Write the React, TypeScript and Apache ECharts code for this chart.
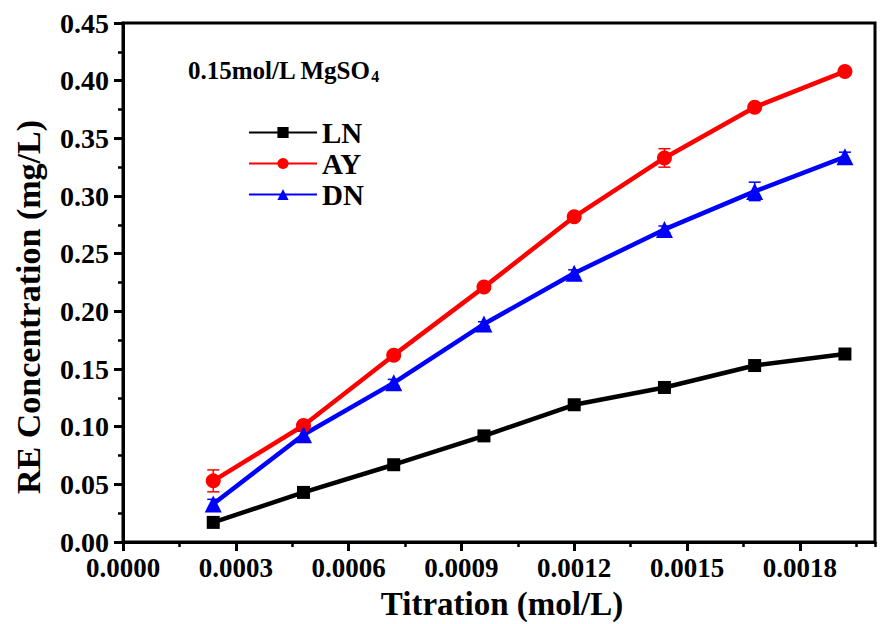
import React, { useEffect, useRef } from "react";
import * as echarts from "echarts";

const titration = [0.00024, 0.00048, 0.00072, 0.00096, 0.0012, 0.00144, 0.00168, 0.00192];
const lnValues = [0.017, 0.043, 0.067, 0.092, 0.119, 0.134, 0.153, 0.163];
const ayValues = [0.053, 0.101, 0.162, 0.221, 0.282, 0.333, 0.377, 0.408];
const dnValues = [0.033, 0.093, 0.138, 0.189, 0.233, 0.271, 0.304, 0.334];
const lnErr = [0.002, 0.002, 0.004, 0.002, 0.002, 0.002, 0.002, 0.002];
const ayErr = [0.0095, 0.002, 0.003, 0.002, 0.002, 0.008, 0.002, 0.002];
const dnErr = [0.004, 0.003, 0.003, 0.002, 0.003, 0.003, 0.008, 0.004];
const seriesNames = ["LN", "AY", "DN"];
const seriesColors = ["#000000", "#ff0000", "#0000ff"];
const seriesSymbols = ["rect", "circle", "triangle"];
const symbolSizes = [13, 15, 17];

const FONT = "'Liberation Serif', 'Times New Roman', serif";

export default function App() {
  const ref = useRef<HTMLDivElement>(null);
  useEffect(() => {
    document.body.style.margin = "0";
    if (!ref.current) return;
    const chart = echarts.init(ref.current, null, { renderer: "svg" });
    const values = [lnValues, ayValues, dnValues];
    const errs = [lnErr, ayErr, dnErr];
    const lineSeries = values.map((vals, i) => ({
      name: seriesNames[i],
      type: "line",
      xAxisIndex: 0,
      yAxisIndex: 0,
      data: titration.map((x, j) => [x, vals[j]]),
      symbol: seriesSymbols[i],
      symbolSize: symbolSizes[i],
      itemStyle: { color: seriesColors[i] },
      lineStyle: { color: seriesColors[i], width: 4.5 },
      z: 3,
    }));
    const errSeries = values.map((vals, i) => ({
      name: seriesNames[i] + "_err",
      type: "custom",
      xAxisIndex: 0,
      yAxisIndex: 0,
      data: titration.map((x, j) => [x, vals[j], errs[i][j]]),
      z: 2,
      renderItem: (params: any, api: any) => {
        const x = api.value(0);
        const y = api.value(1);
        const e = api.value(2);
        const top = api.coord([x, y + e]);
        const bot = api.coord([x, y - e]);
        const w = 6;
        const style = { stroke: seriesColors[i], lineWidth: 1.5 };
        return {
          type: "group",
          children: [
            { type: "line", shape: { x1: top[0], y1: top[1], x2: bot[0], y2: bot[1] }, style },
            { type: "line", shape: { x1: top[0] - w, y1: top[1], x2: top[0] + w, y2: top[1] }, style },
            { type: "line", shape: { x1: bot[0] - w, y1: bot[1], x2: bot[0] + w, y2: bot[1] }, style },
          ],
        };
      },
    }));

    chart.setOption({
      animation: false,
      backgroundColor: "#ffffff",
      grid: {
        left: 123,
        right: 5,
        top: 23,
        bottom: 82,
        show: true,
        borderColor: "#000",
        borderWidth: 3,
      },
      legend: {
        data: seriesNames,
        orient: "vertical",
        left: 243,
        top: 113,
        itemWidth: 68,
        itemHeight: 14,
        itemGap: 2,
        textStyle: { fontFamily: FONT, fontWeight: "bold", fontSize: 29, color: "#000" },
      },
      xAxis: [
        {
          type: "value",
          min: 0,
          max: 0.002,
          interval: 0.0003,
          position: "bottom",
          axisLine: { show: true, lineStyle: { color: "#000", width: 3 } },
          axisTick: { show: true, inside: false, length: 9, lineStyle: { color: "#000", width: 3 } },
          axisLabel: {
            show: true,
            margin: 12,
            fontFamily: FONT,
            fontWeight: "bold",
            fontSize: 27,
            color: "#000",
            showMaxLabel: false,
            formatter: (v: number) => v.toFixed(4),
          },
          splitLine: { show: false },
        },
        {
          type: "value",
          min: 0,
          max: 0.002,
          interval: 0.00015,
          position: "bottom",
          axisLine: { show: false },
          axisTick: { show: true, inside: false, length: 5, lineStyle: { color: "#000", width: 2.5 } },
          axisLabel: { show: false },
          splitLine: { show: false },
        },
      ],
      yAxis: {
        type: "value",
        min: 0,
        max: 0.45,
        interval: 0.05,
        axisLine: { show: true, lineStyle: { color: "#000", width: 3 } },
        axisTick: { show: true, inside: false, length: 9, lineStyle: { color: "#000", width: 3 } },
        minorTick: { show: true, splitNumber: 2, length: 5, lineStyle: { color: "#000", width: 2.5 } },
        axisLabel: {
          margin: 14,
          fontFamily: FONT,
          fontWeight: "bold",
          fontSize: 28,
          color: "#000",
          formatter: (v: number) => v.toFixed(2),
        },
        splitLine: { show: false },
      },
      graphic: [
        {
          type: "text",
          x: 502,
          y: 604,
          style: {
            text: "Titration (mol/L)",
            fontFamily: FONT,
            fontWeight: "bold",
            fontSize: 33,
            fill: "#000",
            align: "center",
            verticalAlign: "middle",
          },
        },
        {
          type: "text",
          x: 28,
          y: 307,
          rotation: Math.PI / 2,
          style: {
            text: "RE Concentration (mg/L)",
            fontFamily: FONT,
            fontWeight: "bold",
            fontSize: 34,
            fill: "#000",
            align: "center",
            verticalAlign: "middle",
          },
        },
        {
          type: "text",
          x: 188,
          y: 70,
          style: {
            text: "{a|0.15mol/L MgSO}{s|4}",
            verticalAlign: "middle",
            rich: {
              a: { fontFamily: FONT, fontWeight: "bold", fontSize: 25, color: "#000" },
              s: { fontFamily: FONT, fontWeight: "bold", fontSize: 16, color: "#000", padding: [12, 0, 0, 0] },
            },
          },
        },
      ],
      series: [...errSeries, ...lineSeries],
    });
    return () => chart.dispose();
  }, []);
  return <div ref={ref} style={{ width: 880, height: 624 }} />;
}
